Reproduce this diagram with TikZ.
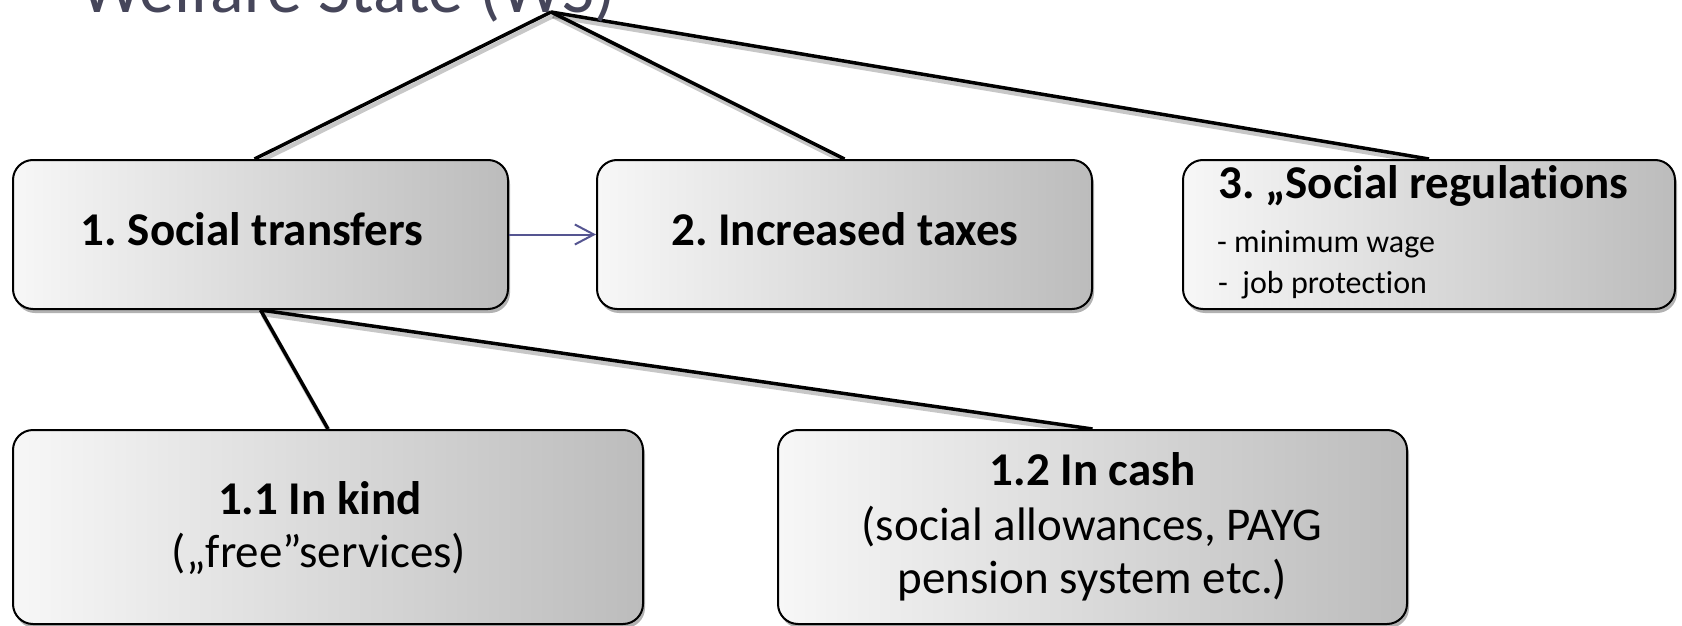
\documentclass[tikz,border=0pt]{standalone}
\usepackage{fontspec}
\setmainfont{Carlito}[Ligatures={TeX,NoCommon}]
\usetikzlibrary{shadows,arrows.meta,backgrounds}
\definecolor{titlecol}{RGB}{70,70,90}
\definecolor{arrowcol}{RGB}{85,85,145}
\definecolor{boxlight}{RGB}{247,247,247}
\definecolor{boxdark}{RGB}{188,188,188}
\frenchspacing
\begin{document}
\begin{tikzpicture}[x=1pt,y=-1pt,
  box/.style={draw=black, line width=2pt, rounded corners=20pt,
    left color=boxlight, right color=boxdark,
    drop shadow={shadow xshift=2pt, shadow yshift=-4pt, opacity=0.3, fill=black},
    inner sep=0pt, minimum height=149pt},
  bigbold/.style={inner sep=0pt, anchor=base, font=\fontsize{47}{54}\selectfont\bfseries},
  bigreg/.style={inner sep=0pt, anchor=base, font=\fontsize{47}{54}\selectfont},
  smallreg/.style={inner sep=0pt, anchor=base west, font=\fontsize{32}{38}\selectfont},
  conn/.style={draw=black, line width=3.5pt},
  connshadow/.style={draw=black, opacity=0.22, line width=4.5pt, transform canvas={shift={(2,4)}}},
  arrowline/.style={draw=arrowcol, line width=2pt, -{Straight Barb[length=19pt,width=20pt]}}
]
\useasboundingbox (0,0) rectangle (1682,626);

% title (cut at the top edge, as in the reference)
\node[anchor=base west, inner sep=0pt, text=titlecol, font=\fontsize{70}{80}\selectfont] (title) at (80,13) {Welfare State (WS)};
\coordinate (apex) at (551,12);

% boxes
\node[box, minimum width=495pt] (b1) at (260.5,234.5) {};
\node[box, minimum width=495pt] (b2) at (844.5,234.5) {};
\node[box, minimum width=492pt] (b3) at (1429,234.5) {};
\node[box, minimum width=630pt, minimum height=194pt] (b11) at (328,527) {};
\node[box, minimum width=629pt, minimum height=194pt] (b12) at (1092.5,527) {};

% texts
\node[bigbold] (t1) at (252,245) {1. Social transfers};
\node[bigbold] (t2) at (845,245) {2. Increased taxes};
\node[bigbold, anchor=base west] (t3) at (1218,198) {3. „Social regulations};
\node[smallreg] (t3a) at (1217,252) {- minimum wage};
\node[smallreg] (t3b) at (1218,293) {-\ \ job protection};
\node[bigbold] (t11a) at (320,514) {1.1 In kind};
\node[bigreg] (t11b) at (319,567) {(„free”services)};
\node[bigbold] (t12a) at (1092.5,485) {1.2 In cash};
\node[bigreg] (t12b) at (1092,540) {(social allowances, PAYG};
\node[bigreg] (t12c) at (1092.5,593) {pension system etc.)};

% connectors
\begin{scope}[on background layer]
  \draw[connshadow] (apex) -- ([xshift=-6pt]b1.north);
  \draw[connshadow] (apex) -- (b2.north);
  \draw[connshadow] (apex) -- (b3.north);
  \draw[connshadow] (b1.south) -- (b11.north);
  \draw[connshadow] (b1.south) -- (b12.north);
  \draw[conn] (apex) -- ([xshift=-6pt]b1.north);
  \draw[conn] (apex) -- (b2.north);
  \draw[conn] (apex) -- (b3.north);
  \draw[conn] (b1.south) -- (b11.north);
  \draw[conn] (b1.south) -- (b12.north);
\end{scope}
\draw[arrowline] (b1.east) -- (b2.west);
\end{tikzpicture}
\end{document}
